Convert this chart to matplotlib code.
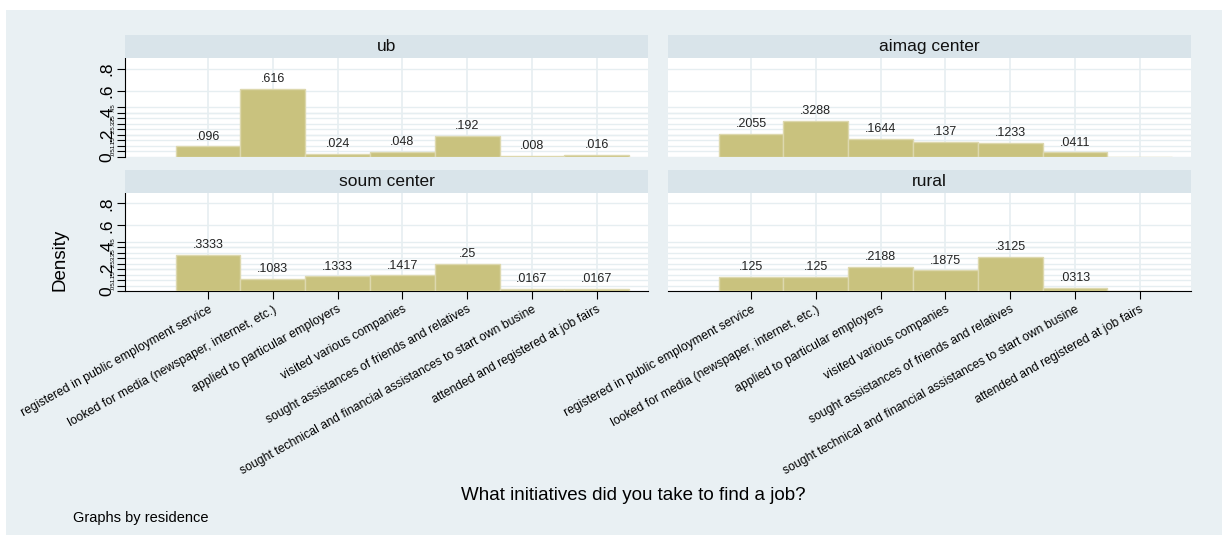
import numpy as np
import matplotlib.pyplot as plt
from matplotlib.patches import Rectangle

plt.rcParams['font.family'] = ['Liberation Sans', 'DejaVu Sans']

# categories of the question (codes 1..7)
categories = ["registered in public employment service",
              "looked for media (newspaper, internet, etc.)",
              "applied to particular employers",
              "visited various companies",
              "sought assistances of friends and relatives",
              "sought technical and financial assistances to start own busine",
              "attended and registered at job fairs"]
codes = [1, 2, 3, 4, 5, 6, 7]

panels = ["ub", "aimag center", "soum center", "rural"]
ub = [.096, .616, .024, .048, .192, .008, .016]
aimag = [.2055, .3288, .1644, .137, .1233, .0411, 0]
soum = [.3333, .1083, .1333, .1417, .25, .0167, .0167]
rural = [.125, .125, .2188, .1875, .3125, .0313, 0]
series = [ub, aimag, soum, rural]

major_y = [0, .2, .4, .6, .8]
minor_y = [.05, .1, .15, .2, .25, .3, .35, .4, .45]

bg = '#e9f0f3'
stripc = '#d9e4ea'
gridc = '#e6eef1'
barc = '#c9c27e'

fig = plt.figure(figsize=(12.29, 5.41), dpi=100)
fig.patch.set_facecolor('white')
fig.add_artist(Rectangle((6/1229, 6/541), 1216/1229, 525/541, transform=fig.transFigure,
                         facecolor=bg, edgecolor='none', zorder=-10))

def fmt(v):
    s = ('%.4f' % v).rstrip('0')
    return s[1:] if s.startswith('0') else s

lefts = [125/1229, 668/1229]
w = 523/1229
rows = [(157, 58, 35), (291, 193, 170)]  # plot bottom, plot top, strip top (pixels)

for k, name in enumerate(panels):
    r, c = divmod(k, 2)
    pb, pt, st = rows[r]
    ax = fig.add_axes([lefts[c], 1 - pb/541, w, (pb - pt)/541])
    sax = fig.add_axes([lefts[c], 1 - pt/541, w, (pt - st)/541])
    sax.set_facecolor(stripc)
    sax.set_xticks([]); sax.set_yticks([])
    for sp in sax.spines.values():
        sp.set_visible(False)
    sax.text(0.5, 0.5, name, ha='center', va='center', fontsize=12.5, color='#111111',
             transform=sax.transAxes)

    vals = series[k]
    ax.set_facecolor('white')
    ax.bar(codes, vals, width=1.0, color=barc, edgecolor='#ddd8ae', linewidth=1, zorder=3)
    for x, v in zip(codes, vals):
        if v > 0:
            ax.text(x, v + 0.035, fmt(v), ha='center', va='bottom', fontsize=9, color='#222222', zorder=4)
    ax.set_xlim(-0.28, 7.79)
    ax.set_ylim(0, 0.895)
    for y in major_y + minor_y:
        ax.axhline(y, color=gridc, lw=1, zorder=1)
    for x in codes:
        ax.axvline(x, color=gridc, lw=1.2, zorder=1)
    for sp in ['top', 'right']:
        ax.spines[sp].set_visible(False)
    ax.spines['left'].set_visible(c == 0)
    ax.spines['bottom'].set_visible(r == 1)

    if c == 0:
        ax.set_yticks(major_y)
        ax.set_yticklabels(['0', '.2', '.4', '.6', '.8'], rotation=90, va='center', fontsize=12.5)
        ax.set_yticks(minor_y, minor=True)
        ax.set_yticklabels([fmt(v) for v in minor_y], minor=True, rotation=90, va='center', fontsize=4.5)
        ax.tick_params(axis='y', which='major', length=6, width=0.8, pad=2)
        ax.tick_params(axis='y', which='minor', length=6, width=0.8, pad=1)
    else:
        ax.set_yticks([])
        ax.set_yticks([], minor=True)

    if r == 1:
        ax.set_xticks(codes)
        ax.set_xticklabels(categories, rotation=29, ha='right', va='top',
                           rotation_mode='anchor', fontsize=8.8)
        ax.tick_params(axis='x', length=6, width=0.8, pad=3)
    else:
        ax.set_xticks([])

fig.text(60/1229, 1 - 260/541, 'Density', rotation=90, ha='center', va='center', fontsize=13.5)
fig.text(633/1229, 1 - 496/541, 'What initiatives did you take to find a job?', ha='center',
         va='center', fontsize=13.5)
fig.text(73/1229, 1 - 518/541, 'Graphs by residence', ha='left', va='center', fontsize=10.5)

fig.savefig('out.png', dpi=100)
